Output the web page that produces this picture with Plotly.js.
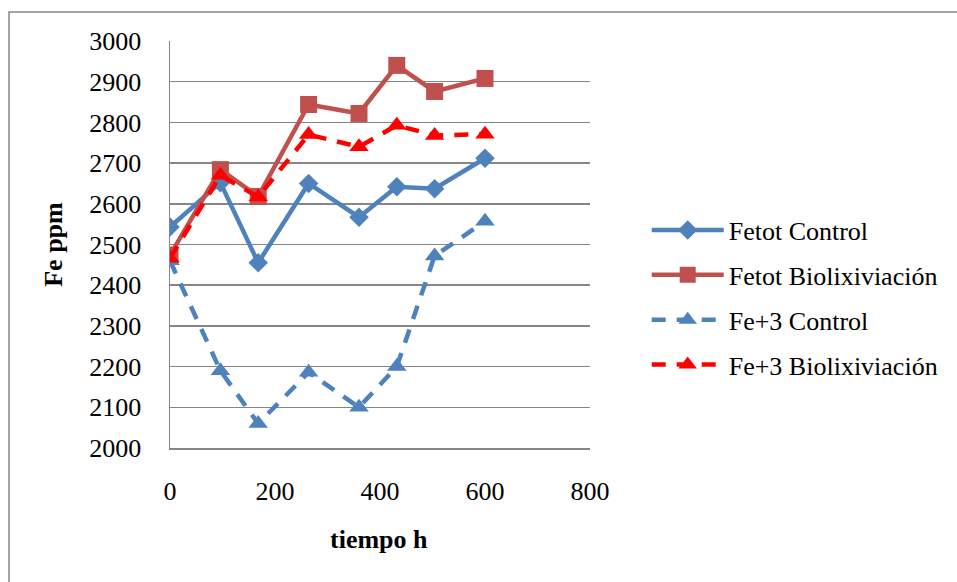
<!DOCTYPE html>
<html>
<head>
<meta charset="utf-8">
<script src="https://cdn.plot.ly/plotly-3.0.1.min.js"></script>
<style>html,body{margin:0;padding:0;background:#fff;}#chart{width:957px;height:582px;}</style>
</head>
<body>
<div id="chart"></div>
<script>
const tiempo = [0, 96, 168, 264, 360, 432, 504, 600];
const fetotControl = [2543, 2652, 2455, 2650, 2567, 2642, 2637, 2712];
const fetotBio = [2474, 2684, 2618, 2844, 2822, 2940, 2876, 2908];
const fe3Control = [2460, 2190, 2060, 2186, 2100, 2200, 2472, 2557];
const fe3Bio = [2466, 2670, 2617, 2770, 2740, 2793, 2768, 2771];
const seriesNames = ["Fetot Control", "Fetot Biolixiviación", "Fe+3 Control", "Fe+3 Biolixiviación"];

const font = "Liberation Serif";
const fs = 26;
const traces = [
  {x: tiempo, y: fetotControl, name: seriesNames[0], legendgroup: "a",
   mode: "lines+markers", line: {color: "#4F81BD", width: 4.5},
   marker: {symbol: "diamond", size: 15, color: "#4F81BD"}},
  {x: tiempo, y: fetotBio, name: seriesNames[1], legendgroup: "b",
   mode: "lines+markers", line: {color: "#C0504D", width: 4.5},
   marker: {symbol: "square", size: 17, color: "#C0504D"}},
  {x: tiempo, y: fe3Control, name: seriesNames[2], legendgroup: "c",
   mode: "lines+markers", line: {color: "#4F81BD", width: 4.5, dash: "14px,11px"},
   marker: {symbol: "triangle-up", size: 17, color: "#4F81BD"}},
  {x: tiempo, y: fe3Bio, name: seriesNames[3], legendgroup: "d",
   mode: "lines+markers", line: {color: "#FF0000", width: 4.5, dash: "14px,11px"},
   marker: {symbol: "triangle-up", size: 17, color: "#FF0000"}}
];

const layout = {
  width: 957, height: 582,
  margin: {l: 170, r: 367, t: 41, b: 134},
  paper_bgcolor: "#fff", plot_bgcolor: "#fff",
  font: {family: font, size: fs, color: "#000"},
  showlegend: true,
  legend: {x: 1.135, xanchor: "left", y: 0.593, yanchor: "top",
           traceorder: "grouped", tracegroupgap: 8,
           font: {family: font, size: fs, color: "#000"}, bgcolor: "rgba(0,0,0,0)", itemwidth: 72},
  xaxis: {range: [0, 800], dtick: 200, tick0: 0, showgrid: false, zeroline: false,
          showline: true, linecolor: "#868686", linewidth: 1.5, ticks: "",
          ticklabelstandoff: 19},
  yaxis: {range: [2000, 3000], dtick: 100, tick0: 2000, showgrid: true, gridcolor: "#868686",
          gridwidth: 1.5, zeroline: false, showline: true, linecolor: "#868686", linewidth: 1.5,
          ticks: "", ticklabelstandoff: 22,
          title: {text: "<b>Fe ppm</b>", font: {family: font, size: fs}, standoff: 19}},
  annotations: [{text: "<b>tiempo h</b>", xref: "paper", yref: "paper", x: (379 - 170) / 420, y: (448 - 539) / 407,
                 xanchor: "center", yanchor: "middle", showarrow: false,
                 font: {family: font, size: fs, color: "#000"}}],
  shapes: [{type: "rect", xref: "paper", yref: "paper",
            x0: (9 - 170) / 420, x1: (1000 - 170) / 420, y0: (448 - 650) / 407, y1: (448 - 12) / 407,
            line: {color: "#868686", width: 1.5}, fillcolor: "rgba(0,0,0,0)", layer: "below"}]
};

Plotly.newPlot("chart", traces, layout, {displayModeBar: false, staticPlot: true});
</script>
</body>
</html>
